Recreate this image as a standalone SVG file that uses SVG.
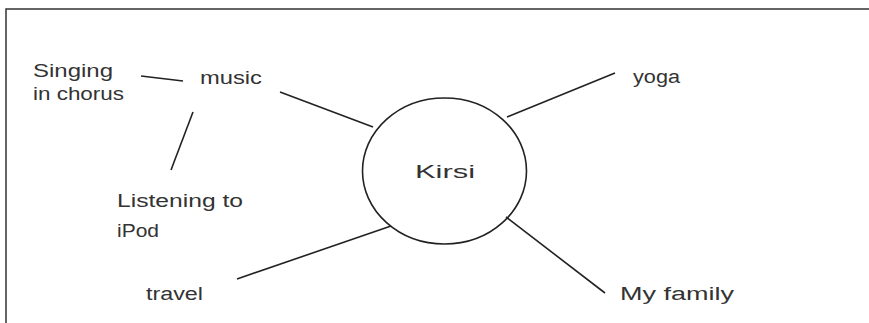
<svg xmlns="http://www.w3.org/2000/svg" width="869" height="323" viewBox="0 0 869 323">
<style>
.t{font-family:"Liberation Sans",Arial,sans-serif;font-size:18px;fill:#333}
.c{stroke:#222;stroke-width:1.6;fill:none}
</style>
<rect width="869" height="323" fill="#fff"/>
<path d="M6,323 V9 H869" fill="none" stroke="#333" stroke-width="1.5"/>
<g id="connectors" class="c">
<line x1="141" y1="76" x2="183" y2="81"/>
<line x1="280" y1="92" x2="373" y2="127"/>
<line x1="193" y1="112" x2="171" y2="170"/>
<line x1="507" y1="117" x2="615" y2="73"/>
<line x1="237" y1="279" x2="391" y2="226"/>
<line x1="506" y1="217" x2="605" y2="293"/>
</g>
<g id="kirsi"><ellipse cx="444.5" cy="171" rx="82" ry="73" class="c"/><text class="t" x="415" y="178" textLength="60" lengthAdjust="spacingAndGlyphs">Kirsi</text></g>
<g id="music"><text class="t" x="200" y="84" textLength="62" lengthAdjust="spacingAndGlyphs">music</text></g>
<g id="singing"><text class="t" x="33" y="77" textLength="80" lengthAdjust="spacingAndGlyphs">Singing</text><text class="t" x="33" y="100" textLength="91" lengthAdjust="spacingAndGlyphs">in chorus</text></g>
<g id="listening"><text class="t" x="117" y="207" textLength="126" lengthAdjust="spacingAndGlyphs">Listening to</text><text class="t" x="117" y="237" textLength="42" lengthAdjust="spacingAndGlyphs">iPod</text></g>
<g id="yoga"><text class="t" x="633" y="83" textLength="47" lengthAdjust="spacingAndGlyphs">yoga</text></g>
<g id="travel"><text class="t" x="146" y="300" textLength="57" lengthAdjust="spacingAndGlyphs">travel</text></g>
<g id="family"><text class="t" x="620" y="300" textLength="114" lengthAdjust="spacingAndGlyphs">My family</text></g>
</svg>
